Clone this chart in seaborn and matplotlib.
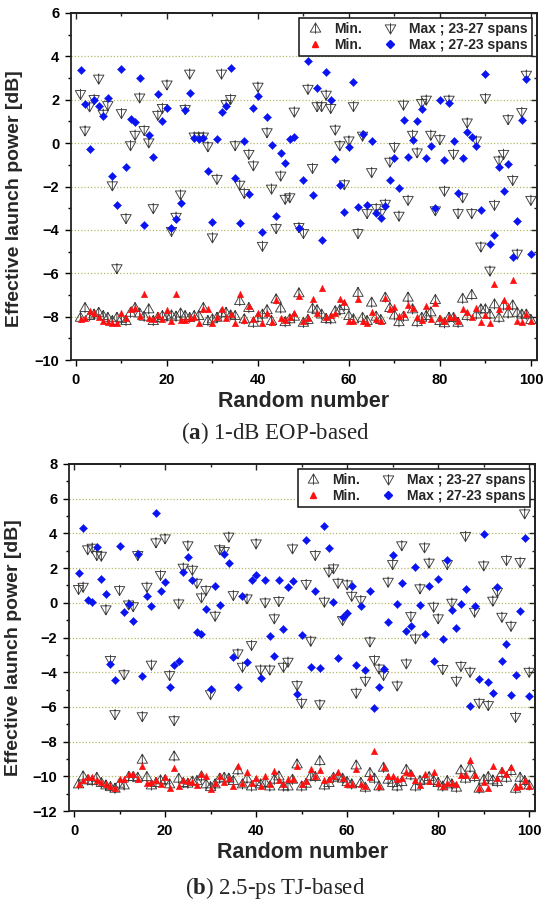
import numpy as np
import pandas as pd
import matplotlib
matplotlib.use("Agg")
import matplotlib.pyplot as plt
from matplotlib.path import Path
from matplotlib.ticker import MultipleLocator
from matplotlib.lines import Line2D
import seaborn as sns

# ---------------- data ----------------
runs = list(range(1, 101))

# (a) 1-dB EOP-based
a_min_2327 = [-8.05, -7.6, -7.97, -7.9, -7.82, -7.97, -8.05, -8.2, -8.05, -8.1,
              -8.2, -7.82, -7.6, -7.85, -8.0, -7.66, -8.2, -8.05, -7.97, -8.0,
              -7.94, -8.0, -7.85, -7.97, -8.06, -7.97, -7.97, -7.6, -8.2, -8.12,
              -8.05, -7.85, -7.82, -7.94, -7.97, -7.28, -8.12, -7.6, -8.28, -8.05,
              -7.9, -7.7, -8.2, -7.2, -7.62, -8.25, -8.12, -8.0, -6.92, -8.28,
              -8.15, -7.63, -7.7, -7.9, -8.1, -8.12, -7.75, -7.7, -7.5, -7.97,
              -8.12, -6.9, -8.05, -8.2, -7.35, -8.0, -8.15, -7.12, -7.6, -7.94,
              -8.25, -8.0, -7.12, -7.66, -8.25, -8.05, -7.97, -7.8, -7.23, -8.2,
              -8.3, -8.05, -8.05, -8.28, -7.17, -7.97, -7.0, -7.9, -7.66, -7.66,
              -7.9, -7.43, -8.05, -7.48, -7.85, -7.48, -7.82, -7.9, -7.9, -8.15]
a_min_2723 = [-8.1, -8.05, -7.75, -7.85, -8.0, -8.2, -8.23, -8.28, -8.3, -7.85,
              -8.05, -7.63, -7.6, -7.97, -6.97, -8.06, -8.1, -7.94, -8.1, -7.7,
              -8.2, -6.95, -8.15, -8.15, -8.05, -8.0, -8.28, -7.66, -7.63, -8.28,
              -8.0, -7.63, -8.05, -7.9, -8.28, -6.97, -8.15, -7.5, -8.12, -7.82,
              -8.28, -7.82, -8.25, -7.25, -8.05, -8.15, -8.0, -7.85, -7.05, -8.2,
              -8.06, -7.2, -7.82, -6.7, -8.0, -7.94, -7.82, -7.2, -7.32, -8.18,
              -8.18, -7.2, -8.18, -8.28, -7.8, -8.1, -8.2, -7.14, -7.66, -7.54,
              -7.97, -7.9, -7.45, -7.6, -8.0, -8.15, -7.5, -8.12, -7.38, -8.08,
              -8.2, -8.0, -8.0, -8.2, -7.63, -7.8, -8.0, -7.6, -8.25, -7.94,
              -8.28, -6.5, -7.66, -7.25, -7.5, -6.3, -8.2, -8.25, -7.9, -8.2]
a_max_2327 = [2.26, 0.58, 1.69, 2.03, 2.97, 1.35, 1.75, -1.95, -5.77, 1.38,
              -3.46, -0.1, 0.38, 2.1, 0.6, 0.03, -3.0, 1.3, 1.62, 2.7,
              -4.05, -3.4, -2.37, 1.57, 3.2, 0.3, 0.3, 0.3, -0.15, -4.35,
              -1.65, 3.2, 1.8, 2.03, -0.1, -1.92, -2.3, -0.5, -1.03, 2.6,
              -4.74, 0.5, -2.1, -3.92, -1.5, -2.57, -2.5, 1.45, -3.87, -4.15,
              2.5, -1.15, 1.7, 1.7, 2.23, 1.62, 0.62, -0.1, -1.9, 0.12,
              1.7, -4.15, 0.34, -3.23, -1.34, -3.0, -3.23, -2.8, -0.86, -0.18,
              -3.35, 1.77, -2.62, 0.38, -0.43, 1.85, 2.0, 0.38, -3.1, 0.18,
              -2.2, 2.0, -0.5, -3.23, -2.5, 0.95, -3.23, 0.12, -4.77, 2.07,
              -5.88, -2.85, -0.8, -0.5, 1.1, -1.7, -5.1, 1.43, 3.15, -2.62]
a_max_2723 = [3.38, 1.8, -0.25, 2.0, 1.72, 1.23, 2.06, -1.5, -2.85, 3.43,
              -1.12, 1.09, 0.98, 2.98, -3.77, 0.38, -0.65, 2.26, 1.0, 1.62,
              -3.9, -3.5, -2.74, 1.52, 2.3, 0.25, 0.2, 0.22, -1.28, -3.62,
              0.18, 1.42, 1.72, 3.45, -1.62, -3.7, 0.08, -2.35, 1.6, 2.17,
              -4.12, 1.2, -0.1, -3.37, -0.46, -0.9, 0.18, 0.3, -3.92, -1.7,
              3.8, -2.38, 2.55, -4.48, 3.26, 2.0, -0.74, -1.92, -3.16, -0.2,
              2.8, -2.95, 0.43, -2.85, 0.09, -3.2, -3.46, -2.88, -1.72, -0.7,
              -2.05, 1.08, -0.62, 0.15, 1.0, 1.57, -0.7, -0.15, -2.98, 1.98,
              -0.8, 1.85, 0.12, -2.3, -0.7, 0.52, 0.3, -0.15, -3.1, 3.17,
              -4.63, -4.23, -1.08, -2.23, -0.95, -5.26, -3.58, 1.05, 2.94, -5.09]

# (b) 2.5-ps TJ-based
b_min_2327 = [-10.46, -10.0, -10.23, -10.27, -10.08, -10.38, -10.52, -10.62, -10.71, -10.42,
              -10.52, -10.04, -10.04, -10.08, -9.04, -10.04, -10.52, -10.38, -10.23, -10.23,
              -10.46, -8.85, -10.13, -10.38, -10.42, -10.3, -10.27, -10.0, -10.46, -10.62,
              -10.46, -10.13, -10.08, -10.13, -10.27, -9.65, -10.46, -10.13, -10.58, -10.33,
              -10.46, -10.38, -10.58, -10.19, -10.0, -10.58, -10.58, -10.19, -9.31, -10.58,
              -10.42, -10.0, -10.04, -9.12, -10.52, -10.38, -10.08, -10.0, -10.13, -10.33,
              -10.46, -9.37, -10.38, -10.65, -9.81, -10.13, -10.58, -9.5, -10.19, -10.38,
              -10.58, -10.33, -9.62, -9.94, -10.58, -10.27, -10.19, -10.04, -10.27, -10.38,
              -10.58, -10.27, -10.46, -10.65, -9.65, -10.13, -9.5, -10.04, -10.71, -10.19,
              -10.04, -10.23, -10.33, -9.81, -10.08, -9.69, -10.71, -10.08, -10.27, -10.52]
b_min_2723 = [-10.42, -10.19, -10.04, -10.04, -10.19, -10.33, -10.46, -10.58, -10.65, -10.13,
              -10.17, -9.88, -9.88, -10.13, -9.38, -10.38, -10.33, -10.19, -10.42, -10.04,
              -10.67, -9.5, -10.58, -10.19, -10.27, -10.3, -10.52, -9.88, -10.0, -10.71,
              -10.38, -10.0, -10.33, -10.08, -10.58, -9.42, -10.38, -9.77, -10.38, -10.08,
              -10.56, -10.0, -10.46, -9.71, -10.19, -10.46, -10.13, -10.13, -9.38, -10.42,
              -10.27, -9.56, -10.0, -9.62, -10.19, -10.13, -10.0, -9.75, -10.08, -10.46,
              -10.46, -9.56, -10.46, -10.58, -10.04, -8.54, -10.58, -9.46, -10.0, -10.0,
              -10.13, -10.08, -9.75, -9.81, -10.19, -10.52, -9.85, -10.27, -9.77, -10.38,
              -10.58, -10.38, -10.38, -10.42, -9.94, -9.9, -9.05, -9.94, -10.65, -10.33,
              -10.65, -9.42, -10.08, -9.65, -9.85, -9.46, -10.62, -10.58, -10.19, -10.58]
b_max_2327 = [0.79, 0.92, 3.08, 3.17, 2.75, 2.71, -0.38, -3.3, -6.42, 0.73,
              -4.12, -0.1, -0.2, 2.75, -6.54, 0.92, -3.57, 3.48, 1.6, 3.71,
              -4.17, -6.77, -0.04, 2.02, 3.31, 1.9, 1.15, 0.31, 0.73, -5.27,
              -0.75, 3.08, 2.98, 3.81, 0.44, -2.92, -3.69, 0.25, -2.44, 3.42,
              -3.85, 0.02, -3.85, -0.9, 0.1, -3.69, -3.4, 3.13, -4.75, -5.77,
              1.08, -2.19, 2.75, -5.85, 0.06, 1.79, 1.98, 1.15, -1.0, 1.06,
              0.4, -5.19, 0.15, -4.5, -2.23, -3.3, -3.79, -4.17, 1.21, 2.23,
              -4.77, 3.31, -3.5, -0.77, -2.06, 0.83, 3.19, 2.31, -0.23, -0.9,
              -3.82, 2.23, 0.0, -4.5, -3.64, 3.85, -3.98, -0.52, -5.77, 2.15,
              -5.9, 0.12, 0.63, -0.81, 2.46, -1.33, -6.58, 2.35, 5.15, -3.98]
b_max_2723 = [1.69, 4.29, 0.19, 0.06, 3.19, 1.4, 0.48, -3.54, -4.46, 3.29,
              -0.52, -0.08, -1.04, 2.8, -4.23, 0.42, -0.17, 5.15, 0.67, 1.21,
              -4.88, -3.6, -3.35, 1.77, 2.65, 1.3, -1.69, -1.81, -0.35, -4.94,
              0.98, -0.12, 2.8, 2.3, -3.15, -4.85, 0.38, -3.44, 1.3, 1.6,
              -4.35, 1.3, -1.92, -3.08, 1.3, -1.52, 0.92, 1.25, -5.27, -1.87,
              3.62, -3.7, 0.69, -3.75, 4.42, 3.15, 0.06, -3.2, -0.8, -0.58,
              0.98, -3.56, -0.17, -3.85, 0.69, -6.04, -4.88, -3.8, -1.12, 2.75,
              -0.08, 1.17, -1.63, -1.35, 2.04, -0.13, -1.77, 0.98, -3.35, 1.35,
              -2.06, 2.46, -0.44, -1.44, -0.08, 0.79, -5.96, -0.17, -4.38, 3.94,
              -4.54, -5.17, 0.9, -3.38, -2.35, -5.33, -4.15, -0.5, 3.75, -5.37]

legend_labels = ["Min.", "Min.", "Max ; 23-27 spans", "Max ; 27-23 spans"]
captions = [("a", "1-dB EOP-based"), ("b", "2.5-ps TJ-based")]
xlabel = "Random number"
ylabel = "Effective launch power [dB]"

# ---------------- style ----------------
sns.set_style("ticks")
plt.rcParams["font.family"] = ["Liberation Sans", "DejaVu Sans"]
plt.rcParams["font.weight"] = "bold"
plt.rcParams["mathtext.fontset"] = "custom"
plt.rcParams["mathtext.rm"] = "Liberation Serif"
plt.rcParams["mathtext.bf"] = "Liberation Serif:bold"

GRAY = "#3c3c3c"
RED = "#ff1010"
BLUE = "#0a14f0"
GRID = "#b9b96a"

def tri_marker(up=True):
    s = 1 if up else -1
    verts = [(0, s * 1.0), (-0.95, -s * 0.65), (0.95, -s * 0.65), (0, s * 1.0),
             (0, s * 1.0), (0, -s * 0.95)]
    codes = [Path.MOVETO, Path.LINETO, Path.LINETO, Path.CLOSEPOLY,
             Path.MOVETO, Path.LINETO]
    return Path(verts, codes)

UP = tri_marker(True)
DOWN = tri_marker(False)

fig = plt.figure(figsize=(5.5, 9.08), dpi=100)
ax_a = fig.add_axes([0.129, 0.6035, 0.847, 0.3822])
ax_b = fig.add_axes([0.1255, 0.1068, 0.8475, 0.3822])

panels = [
    (ax_a, a_min_2327, a_min_2723, a_max_2327, a_max_2723, (-10, 6), list(range(-10, 7, 2)), 0.464, -0.103),
    (ax_b, b_min_2327, b_min_2723, b_max_2327, b_max_2723, (-12, 8), list(range(-12, 9, 2)), 0.47, -0.1),
]

for ax, mn1, mn2, mx1, mx2, ylim, yticks, ylab_y, ylab_x in panels:
    df = pd.DataFrame({"run": runs, "min2327": mn1, "min2723": mn2,
                       "max2327": mx1, "max2723": mx2})
    for v in yticks[1:-1]:
        ax.axhline(v, color=GRID, lw=0.9, ls=(0, (1, 1.6)), zorder=0)
    sns.scatterplot(data=df, x="run", y="max2327", marker=DOWN, s=62,
                    facecolors="none", edgecolors=GRAY, linewidths=0.65,
                    ax=ax, zorder=3)
    sns.scatterplot(data=df, x="run", y="max2723", marker="D", s=17,
                    color=BLUE, edgecolors=BLUE, linewidths=0.3, ax=ax, zorder=4)
    sns.scatterplot(data=df, x="run", y="min2327", marker=UP, s=62,
                    facecolors="none", edgecolors=GRAY, linewidths=0.65,
                    ax=ax, zorder=3)
    sns.scatterplot(data=df, x="run", y="min2723", marker="^", s=22,
                    color=RED, edgecolors=RED, linewidths=0.3, ax=ax, zorder=4)

    ax.set_xlim(-1.1, 101.3)
    ax.set_ylim(*ylim)
    ax.xaxis.set_major_locator(MultipleLocator(20))
    ax.xaxis.set_minor_locator(MultipleLocator(10))
    ax.set_yticks(yticks)
    ax.yaxis.set_minor_locator(MultipleLocator(1))
    ax.tick_params(which="both", direction="out", colors="black", width=1.0,
                   labelsize=10.5)
    ax.tick_params(which="major", length=4.5)
    ax.tick_params(which="minor", length=2.5)
    ax.tick_params(axis="x", pad=4.5)
    ax.tick_params(axis="y", pad=4)
    for lab in ax.get_xticklabels() + ax.get_yticklabels():
        lab.set_fontweight("bold")
    for sp in ax.spines.values():
        sp.set_color("#222222")
        sp.set_linewidth(1.3)

    sec_x = ax.secondary_xaxis("top")
    sec_x.xaxis.set_major_locator(MultipleLocator(20))
    sec_x.xaxis.set_minor_locator(MultipleLocator(10))
    sec_x.tick_params(which="both", direction="in", labeltop=False, width=1.0)
    sec_x.tick_params(which="major", length=4.5)
    sec_x.tick_params(which="minor", length=2.5)
    sec_x.spines["top"].set_linewidth(1.3)
    sec_y = ax.secondary_yaxis("right")
    sec_y.yaxis.set_major_locator(MultipleLocator(2))
    sec_y.yaxis.set_minor_locator(MultipleLocator(1))
    sec_y.tick_params(which="both", direction="in", labelright=False, width=1.0)
    sec_y.tick_params(which="major", length=4.5)
    sec_y.tick_params(which="minor", length=2.5)
    sec_y.spines["right"].set_linewidth(1.3)

    ax.set_xlabel(xlabel, fontsize=15.5, fontweight="bold", labelpad=3)
    ax.set_ylabel(ylabel, fontsize=14, fontweight="bold")
    ax.yaxis.set_label_coords(ylab_x, ylab_y)

    handles = [
        Line2D([], [], ls="", marker=UP, ms=8, mfc="none", mec=GRAY, mew=0.65),
        Line2D([], [], ls="", marker="^", ms=5, color=RED),
        Line2D([], [], ls="", marker=DOWN, ms=8, mfc="none", mec=GRAY, mew=0.65),
        Line2D([], [], ls="", marker="D", ms=4.2, color=BLUE),
    ]
    leg = ax.legend(handles, legend_labels, ncol=2, loc="upper right",
                    frameon=True, fancybox=False, framealpha=1,
                    edgecolor="#111111", borderaxespad=0.35,
                    prop={"weight": "bold", "size": 10},
                    handlelength=1.6, handletextpad=0.6, columnspacing=1.2,
                    labelspacing=0.15, borderpad=0.3)
    leg.get_frame().set_linewidth(1.1)

for (letter, rest), ypos in zip(captions, [0.523, 0.022]):
    fig.text(0.5, ypos, r"($\mathbf{" + letter + r"}$) " + rest,
             ha="center", va="center", fontsize=16.5,
             family="Liberation Serif", fontweight="normal")

fig.savefig("out.png", dpi=100)
